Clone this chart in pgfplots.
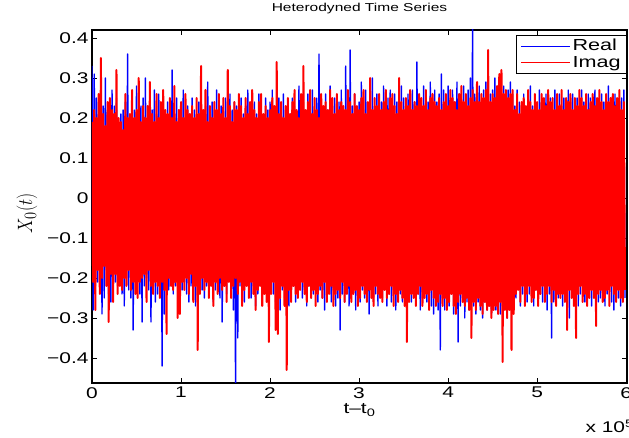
\documentclass[border=0pt]{standalone}
\usepackage{fontspec}
\setmainfont{Liberation Sans}[FakeStretch=1.35]
\usepackage{graphicx}
\usepackage{pgfplots}
\usepackage{pgfplotstable}
\pgfplotsset{compat=1.18}
\pgfplotstableread[row sep=\\]{re im\\
0.33 0.19\\-0.28 -0.21\\0.31 0.22\\-0.22 -0.28\\0.25 0.20\\-0.21 -0.18\\0.24 0.26\\-0.19 -0.24\\0.20 0.35\\-0.29 -0.20\\
0.23 0.21\\-0.25 -0.17\\0.30 0.18\\-0.18 -0.22\\0.22 0.24\\-0.24 -0.31\\0.19 0.25\\-0.26 -0.19\\0.27 0.22\\-0.20 -0.26\\
0.23 0.21\\-0.21 -0.19\\0.25 0.32\\-0.22 -0.24\\0.18 0.20\\-0.19 -0.22\\0.21 0.19\\-0.24 -0.23\\0.22 0.17\\-0.27 -0.20\\
0.24 0.26\\-0.20 -0.22\\0.36 0.20\\-0.23 -0.18\\0.20 0.21\\-0.25 -0.23\\0.18 0.27\\-0.33 -0.21\\0.22 0.20\\-0.21 -0.24\\
0.28 0.22\\-0.19 -0.25\\0.21 0.30\\-0.24 -0.21\\0.23 0.19\\-0.31 -0.20\\0.25 0.23\\-0.22 -0.19\\0.30 0.20\\-0.20 -0.26\\
0.19 0.23\\-0.23 -0.18\\0.24 0.29\\-0.31 -0.22\\0.22 0.21\\-0.20 -0.24\\0.27 0.19\\-0.26 -0.21\\0.21 0.26\\-0.24 -0.22\\
0.26 0.20\\-0.22 -0.25\\0.20 0.24\\-0.42 -0.21\\0.23 0.27\\-0.29 -0.23\\0.19 0.22\\-0.21 -0.34\\0.24 0.21\\-0.23 -0.20\\
0.22 0.25\\-0.19 -0.22\\0.32 0.20\\-0.24 -0.23\\0.21 0.28\\-0.22 -0.21\\0.25 0.19\\-0.20 -0.30\\0.22 0.22\\-0.25 -0.29\\
0.18 0.24\\-0.23 -0.21\\0.27 0.20\\-0.21 -0.23\\0.20 0.26\\-0.24 -0.20\\0.23 0.22\\-0.26 -0.24\\0.21 0.21\\-0.22 -0.19\\
0.25 0.23\\-0.20 -0.26\\0.22 0.20\\-0.27 -0.22\\0.19 0.25\\-0.22 -0.38\\0.24 0.21\\-0.21 -0.24\\0.26 0.33\\-0.23 -0.20\\
0.20 0.22\\-0.25 -0.23\\0.23 0.27\\-0.22 -0.21\\0.29 0.19\\-0.24 -0.25\\0.21 0.23\\-0.20 -0.22\\0.24 0.20\\-0.26 -0.27\\
0.22 0.24\\-0.23 -0.21\\0.27 0.22\\-0.21 -0.24\\0.19 0.26\\-0.25 -0.20\\0.23 0.21\\-0.31 -0.23\\0.20 0.25\\-0.22 -0.22\\
0.25 0.20\\-0.24 -0.26\\0.21 0.32\\-0.20 -0.21\\0.26 0.23\\-0.23 -0.25\\0.22 0.19\\-0.28 -0.22\\0.24 0.24\\-0.47 -0.20\\
0.23 0.22\\-0.35 -0.24\\0.20 0.26\\-0.22 -0.21\\0.25 0.23\\-0.24 -0.27\\0.21 0.20\\-0.26 -0.23\\0.23 0.25\\-0.21 -0.22\\
0.27 0.21\\-0.23 -0.25\\0.22 0.24\\-0.25 -0.21\\0.19 0.27\\-0.22 -0.24\\0.24 0.22\\-0.27 -0.28\\0.21 0.20\\-0.24 -0.23\\
0.26 0.24\\-0.21 -0.22\\0.23 0.26\\-0.26 -0.27\\0.20 0.21\\-0.23 -0.24\\0.25 0.23\\-0.22 -0.26\\0.22 0.20\\-0.25 -0.36\\
0.24 0.22\\-0.21 -0.24\\0.27 0.25\\-0.24 -0.21\\0.21 0.23\\-0.26 -0.33\\0.23 0.34\\-0.22 -0.34\\0.25 0.21\\-0.28 -0.25\\
0.20 0.24\\-0.23 -0.22\\0.26 0.20\\-0.25 -0.27\\0.22 0.23\\-0.24 -0.43\\0.24 0.25\\-0.27 -0.23\\0.21 0.21\\-0.23 -0.26\\
0.25 0.24\\-0.22 -0.22\\0.23 0.27\\-0.26 -0.24\\0.20 0.22\\-0.24 -0.25\\0.28 0.20\\-0.21 -0.23\\0.22 0.26\\-0.25 -0.21\\
0.24 0.33\\-0.23 -0.24\\0.21 0.22\\-0.27 -0.26\\0.26 0.24\\-0.22 -0.22\\0.23 0.27\\-0.25 -0.25\\0.27 0.21\\-0.24 -0.23\\
0.22 0.25\\-0.21 -0.27\\0.25 0.22\\-0.26 -0.24\\0.36 0.20\\-0.23 -0.22\\0.24 0.26\\-0.25 -0.25\\0.21 0.23\\-0.28 -0.21\\
0.26 0.24\\-0.24 -0.26\\0.22 0.22\\-0.22 -0.24\\0.28 0.27\\-0.26 -0.22\\0.23 0.25\\-0.23 -0.27\\0.25 0.21\\-0.27 -0.24\\
0.22 0.26\\-0.25 -0.23\\0.24 0.22\\-0.33 -0.25\\0.27 0.24\\-0.24 -0.21\\0.21 0.23\\-0.26 -0.26\\0.33 0.22\\-0.23 -0.24\\
0.25 0.27\\-0.27 -0.22\\0.37 0.24\\-0.25 -0.26\\0.23 0.21\\-0.22 -0.24\\0.26 0.26\\-0.28 -0.23\\0.22 0.23\\-0.24 -0.27\\
0.24 0.22\\-0.26 -0.25\\0.29 0.25\\-0.23 -0.22\\0.22 0.27\\-0.25 -0.24\\0.27 0.21\\-0.24 -0.26\\0.23 0.24\\-0.29 -0.23\\
0.25 0.30\\-0.22 -0.25\\0.30 0.22\\-0.26 -0.27\\0.22 0.25\\-0.24 -0.22\\0.26 0.23\\-0.27 -0.24\\0.23 0.26\\-0.23 -0.25\\
0.24 0.22\\-0.25 -0.26\\0.28 0.24\\-0.22 -0.23\\0.21 0.27\\-0.27 -0.25\\0.25 0.22\\-0.24 -0.24\\0.27 0.25\\-0.26 -0.22\\
0.22 0.26\\-0.23 -0.27\\0.26 0.23\\-0.28 -0.24\\0.24 0.21\\-0.25 -0.26\\0.23 0.30\\-0.24 -0.23\\0.28 0.24\\-0.26 -0.25\\
0.25 0.22\\-0.22 -0.27\\0.23 0.25\\-0.27 -0.36\\0.26 0.23\\-0.24 -0.26\\0.22 0.27\\-0.26 -0.24\\0.27 0.22\\-0.23 -0.25\\
0.24 0.24\\-0.25 -0.27\\0.34 0.23\\-0.24 -0.24\\0.25 0.26\\-0.28 -0.22\\0.23 0.25\\-0.25 -0.27\\0.28 0.23\\-0.23 -0.25\\
0.26 0.27\\-0.26 -0.24\\0.24 0.22\\-0.24 -0.28\\0.29 0.25\\-0.27 -0.23\\0.25 0.26\\-0.29 -0.25\\0.27 0.24\\-0.26 -0.27\\
0.24 0.23\\-0.28 -0.26\\0.26 0.25\\-0.38 -0.24\\0.31 0.22\\-0.25 -0.27\\0.27 0.24\\-0.28 -0.25\\0.24 0.26\\-0.26 -0.28\\
0.28 0.23\\-0.27 -0.26\\0.25 0.27\\-0.24 -0.24\\0.27 0.25\\-0.29 -0.27\\0.24 0.24\\-0.26 -0.29\\0.29 0.22\\-0.36 -0.26\\
0.26 0.26\\-0.27 -0.24\\0.24 0.28\\-0.25 -0.26\\0.28 0.24\\-0.30 -0.27\\0.25 0.26\\-0.26 -0.25\\0.27 0.23\\-0.28 -0.28\\
0.30 0.25\\-0.25 -0.35\\0.43 0.27\\-0.27 -0.26\\0.26 0.24\\-0.29 -0.28\\0.25 0.29\\-0.26 -0.25\\0.28 0.24\\-0.28 -0.27\\
0.24 0.26\\-0.30 -0.29\\0.27 0.25\\-0.26 -0.26\\0.29 0.27\\-0.28 -0.28\\0.25 0.37\\-0.27 -0.27\\0.26 0.24\\-0.29 -0.30\\
0.27 0.26\\-0.26 -0.28\\0.30 0.25\\-0.28 -0.27\\0.25 0.28\\-0.27 -0.29\\0.28 0.31\\-0.29 -0.26\\0.26 0.32\\-0.27 -0.41\\
0.28 0.26\\-0.26 -0.28\\0.25 0.27\\-0.30 -0.30\\0.27 0.25\\-0.27 -0.28\\0.29 0.26\\-0.26 -0.38\\0.26 0.27\\-0.28 -0.29\\
0.23 0.22\\-0.25 -0.24\\0.27 0.26\\-0.22 -0.23\\0.24 0.21\\-0.27 -0.26\\0.21 0.24\\-0.24 -0.22\\0.26 0.25\\-0.23 -0.27\\
0.22 0.23\\-0.26 -0.24\\0.25 0.27\\-0.24 -0.22\\0.28 0.24\\-0.22 -0.26\\0.23 0.22\\-0.27 -0.25\\0.25 0.26\\-0.23 -0.23\\
0.22 0.24\\-0.25 -0.27\\0.27 0.22\\-0.24 -0.24\\0.24 0.26\\-0.26 -0.22\\0.21 0.25\\-0.23 -0.26\\0.26 0.23\\-0.28 -0.24\\
0.23 0.27\\-0.24 -0.22\\0.25 0.24\\-0.35 -0.26\\0.22 0.25\\-0.26 -0.23\\0.27 0.22\\-0.23 -0.27\\0.24 0.26\\-0.25 -0.24\\
0.26 0.23\\-0.22 -0.25\\0.23 0.27\\-0.27 -0.24\\0.25 0.22\\-0.24 -0.26\\0.22 0.25\\-0.26 -0.33\\0.27 0.24\\-0.30 -0.23\\
0.24 0.26\\-0.23 -0.25\\0.26 0.22\\-0.25 -0.27\\0.22 0.25\\-0.24 -0.35\\0.25 0.23\\-0.27 -0.24\\0.23 0.27\\-0.24 -0.22\\
0.27 0.25\\-0.22 -0.26\\0.24 0.23\\-0.26 -0.24\\0.22 0.26\\-0.25 -0.27\\0.26 0.22\\-0.23 -0.25\\0.25 0.24\\-0.27 -0.23\\
0.23 0.26\\-0.24 -0.25\\0.27 0.23\\-0.22 -0.32\\0.24 0.25\\-0.26 -0.24\\0.21 0.27\\-0.25 -0.23\\0.26 0.24\\-0.23 -0.26\\
0.24 0.22\\-0.27 -0.25\\0.22 0.26\\-0.24 -0.23\\0.28 0.24\\-0.22 -0.27\\0.25 0.25\\-0.26 -0.22\\0.23 0.26\\-0.28 -0.24\\
0.26 0.23\\-0.23 -0.26\\0.24 0.25\\-0.25 -0.23\\0.22 0.27\\-0.27 -0.25\\0.25 0.22\\-0.24 -0.26\\0.27 0.24\\-0.25 -0.23\\
}\data
\begin{document}
\begin{tikzpicture}
\begin{axis}[
  scale only axis, width=535pt, height=353pt,
  xmin=0, xmax=601000, ymin=-0.4625, ymax=0.42,
  xtick={0,100000,200000,300000,400000,500000,600000},
  xticklabels={0,1,2,3,4,5,6},
  scaled x ticks=false,
  ytick={-0.4,-0.3,-0.2,-0.1,0,0.1,0.2,0.3,0.4},
  yticklabels={−0.4,−0.3,−0.2,−0.1,0,0.1,0.2,0.3,0.4},
  tick align=inside,
  major tick length=5pt,
  tick style={black, line width=0.6pt},
  axis line style={black, line width=1.1pt},
  ticklabel style={font=\fontsize{15.5}{18}\selectfont},
  xticklabel style={yshift=-1pt, inner ysep=3pt},
  title={Heterodyned Time Series},
  title style={font=\fontsize{11.5}{13}\selectfont, at={(0.5,1)}, anchor=base, yshift=12pt},
  xlabel={t–t\textsubscript{0}},
  xlabel style={font=\fontsize{15.5}{18}\selectfont, inner sep=1pt, at={(axis description cs:0.5,0)}, anchor=base, yshift=-31pt},
  ylabel={\scalebox{1}[1.2]{\fontsize{19}{22}\selectfont$X_0(t)$}},
  ylabel style={at={(axis description cs:-0.1215,0.48)}, anchor=center},
  legend style={at={(1,1)}, anchor=north east, yshift=-5pt, draw=black, line width=0.8pt,
    font=\fontsize{16}{19}\selectfont, inner xsep=4pt, inner ysep=2pt, row sep=0pt},
  legend cell align=left,
  legend image code/.code={\draw[#1, line width=0.7pt] (0pt,0pt) -- (49pt,0pt);},
]
\addplot[blue, no markers, line width=1.4pt, line join=round] table[x expr=\coordindex*1250, y=re] {\data};
\addlegendentry{Real}
\addplot[red, no markers, line width=2pt, line join=round] table[x expr=\coordindex*1250, y=im] {\data};
\addlegendentry{Imag}
\end{axis}
\node[anchor=base west, font=\fontsize{15.5}{18}\selectfont] at ([xshift=-45pt,yshift=-50pt]current axis.south east) {x 10\textsuperscript{5}};
\pgfresetboundingbox
\path[use as bounding box] ([xshift=-92pt,yshift=-55pt]current axis.south west) rectangle ([xshift=2pt,yshift=30pt]current axis.north east);
\end{tikzpicture}
\end{document}
